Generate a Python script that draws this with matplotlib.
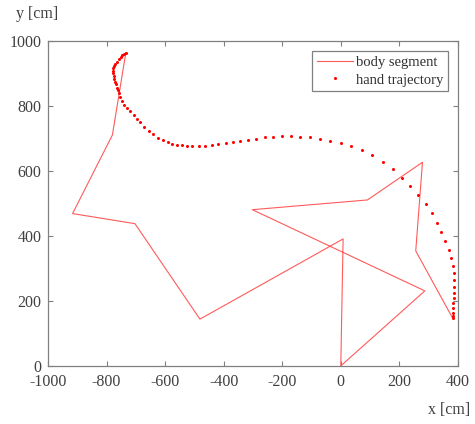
import matplotlib
matplotlib.use('Agg')
import matplotlib.pyplot as plt

plt.rcParams['font.family'] = ['Liberation Serif', 'DejaVu Serif']
plt.rcParams['axes.unicode_minus'] = False

# body segment polyline (cm)
body_x = [-734, -780, -916, -703, -481, 8, 0, 287, -302, 91, 279, 256, 382]
body_y = [965, 711, 469, 438, 144, 391, 0, 231, 481, 511, 627, 354, 147]

# hand trajectory samples (cm)
hand_x = [-734, -740, -746, -752, -758, -765, -771, -775, -777, -777, -777, -776,
          -774, -771, -769, -765, -762, -759, -754, -748, -739, -729, -719, -707,
          -696, -685, -671, -656, -640, -623, -606, -590, -575, -560, -542, -525,
          -507, -484, -464, -441, -418, -393, -369, -343, -316, -289, -260, -231,
          -201, -171, -138, -104, -70, -36, 0, 36, 72, 107, 143, 178, 209, 237,
          264, 290, 310, 328, 343, 357, 368, 377, 383, 386, 386, 386, 386, 385,
          384, 383, 382, 382, 382]
hand_y = [962, 960, 957, 950, 944, 937, 931, 923, 916, 909, 901, 892,
          883, 875, 867, 857, 849, 841, 829, 816, 803, 793, 784, 772,
          760, 750, 736, 724, 714, 703, 695, 689, 684, 681, 679, 678,
          677, 677, 678, 681, 684, 687, 690, 693, 697, 700, 704, 706,
          707, 707, 706, 704, 699, 693, 685, 676, 664, 648, 627, 605, 580, 554,
          527, 499, 470, 441, 412, 384, 358, 332, 308, 285, 263, 242, 224, 208,
          193, 177, 164, 154, 146]

fig = plt.figure(figsize=(4.75, 4.24), dpi=100)
ax = fig.add_axes([0.101, 0.137, 0.863, 0.766])

ax.plot(body_x, body_y, color='#ff5a5a', lw=0.8, label='body segment')
ax.plot(hand_x, hand_y, linestyle='none', marker='o', ms=2.2, mec='none',
        color='red', label='hand trajectory')

ax.set_xlim(-1000, 400)
ax.set_ylim(0, 1000)
ax.set_xticks(range(-1000, 401, 200))
ax.set_yticks(range(0, 1001, 200))
ax.tick_params(direction='in', top=True, right=True, length=3.5, width=0.8,
               colors='#808080', labelcolor='#404040', labelsize=11.5)
ax.tick_params(axis='x', pad=6)
ax.tick_params(axis='y', pad=4.5)
for s in ax.spines.values():
    s.set_color('#808080')
    s.set_linewidth(0.9)

leg = ax.legend(loc='upper right', fontsize=10.5, fancybox=False, framealpha=1,
                edgecolor='#808080', handlelength=2.5, borderpad=0.3,
                labelspacing=0.3, handletextpad=0.2, borderaxespad=0.7)
leg.get_frame().set_linewidth(0.9)
for t in leg.get_texts():
    t.set_color('#303030')

fig.text(0.034, 0.968, 'y [cm]', ha='left', va='center', fontsize=11.5, color='#404040')
fig.text(0.99, 0.033, 'x [cm]', ha='right', va='center', fontsize=11.5, color='#404040')

fig.savefig('out.png', dpi=100)
